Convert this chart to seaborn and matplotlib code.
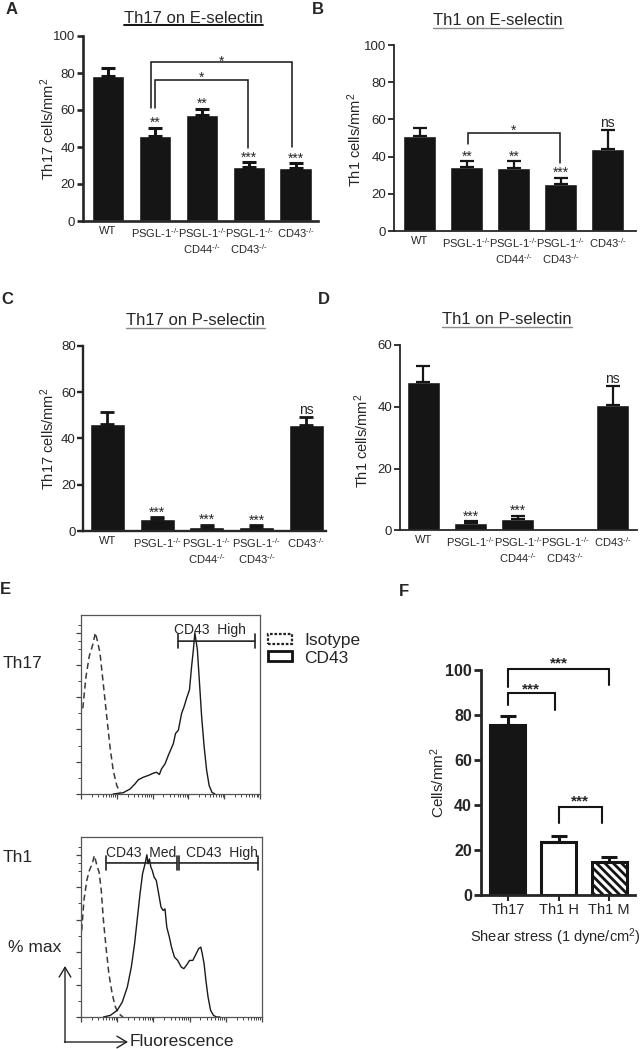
import matplotlib
matplotlib.use("Agg")
import matplotlib.pyplot as plt
from matplotlib.lines import Line2D
from matplotlib.patches import Patch
from matplotlib.ticker import FixedLocator, NullFormatter
import numpy as np
import pandas as pd
import seaborn as sns

# ---- data ----
KO = r"$^{\text{-/-}}$"
genotypes = ["WT", "PSGL-1" + KO, "PSGL-1" + KO + "\nCD44" + KO,
             "PSGL-1" + KO + "\nCD43" + KO, "CD43" + KO]

th17_e_mean = [78.4, 46.0, 57.1, 29.0, 28.6]
th17_e_top = [82.5, 50.3, 60.7, 31.9, 31.2]  # top of SEM whisker
th17_e_sig = ["", "**", "**", "***", "***"]

th1_e_mean = [51.1, 34.2, 34.0, 25.3, 44.3]
th1_e_top = [55.2, 37.6, 37.6, 28.7, 54.1]
th1_e_sig = ["", "**", "**", "***", "ns"]

th17_p_mean = [46.2, 5.2, 2.0, 2.0, 45.7]
th17_p_top = [51.6, 6.0, 2.8, 2.7, 49.1]
th17_p_sig = ["", "***", "***", "***", "ns"]

th1_p_mean = [48.1, 2.5, 3.8, 0.0, 40.5]
th1_p_top = [53.3, 3.0, 4.7, 0.0, 46.7]
th1_p_sig = ["", "***", "***", "", "ns"]

shear_groups = ["Th17", "Th1 H", "Th1 M"]
shear_mean = [75.6, 23.4, 14.8]
shear_top = [79.6, 26.4, 16.7]

# flow histograms: x in decades of fluorescence, y in % of max
th17_iso_x = [0.05, 0.14, 0.23, 0.33, 0.40, 0.46, 0.53, 0.62, 0.72, 0.81, 0.90, 1.00, 1.09]
th17_iso_y = [53.1, 72.9, 85.4, 92.7, 100, 94.8, 87.5, 68.8, 47.9, 29.2, 14.6, 5.2, 1.0]
th17_cd43_x = [0.90, 1.18, 1.37, 1.51, 1.60, 1.74, 1.88, 2.02, 2.11, 2.19, 2.25, 2.35, 2.44,
               2.50, 2.58, 2.64, 2.72, 2.81, 2.88, 2.95, 3.03, 3.09, 3.14, 3.18, 3.25, 3.31,
               3.37, 3.44, 3.51, 3.58, 3.66, 3.74]
th17_cd43_y = [0, 0.8, 3.1, 6.3, 8.8, 10.4, 11.5, 12.9, 13.5, 12.1, 15.6, 18.8, 24.0,
               27.1, 31.3, 37.5, 39.6, 50.0, 54.2, 59.4, 64.6, 79.2, 89.6, 100, 89.6, 68.8,
               47.9, 29.2, 14.6, 5.2, 1.0, 0]
th1_iso_x = [0.02, 0.08, 0.16, 0.23, 0.31, 0.37, 0.44, 0.50, 0.56, 0.62, 0.70, 0.77, 0.86,
             0.95, 1.04, 1.16]
th1_iso_y = [53.4, 71.9, 84.2, 90.3, 94.5, 99.6, 93.4, 89.3, 78.0, 59.5, 41.1, 26.7, 14.4,
             6.2, 2.1, 0]
th1_cd43_x = [0.62, 0.81, 1.00, 1.14, 1.28, 1.39, 1.48, 1.55, 1.63, 1.70, 1.77, 1.82, 1.85,
              1.89, 1.93, 1.97, 2.02, 2.08, 2.13, 2.21, 2.27, 2.32, 2.37, 2.44, 2.50, 2.58,
              2.67, 2.77, 2.84, 2.91, 3.00, 3.09, 3.18, 3.25, 3.31, 3.35, 3.40, 3.45, 3.51,
              3.58, 3.66, 3.74, 3.84]
th1_cd43_y = [0, 1.0, 4.1, 9.2, 18.5, 30.8, 45.2, 59.5, 75.9, 88.3, 94.5, 100, 94.5,
              97.5, 92.4, 90.3, 86.2, 84.2, 78.0, 67.8, 65.7, 66.7, 55.4, 49.3, 43.1, 37.0,
              34.9, 30.8, 29.8, 31.8, 34.9, 34.9, 39.0, 42.1, 43.1, 39.0, 32.9, 22.6, 12.3,
              4.1, 1.0, 0, 0]

W, H = 643, 1049
BAR = "#151515"

sns.set_style("ticks")
plt.rcParams["font.family"] = ["Liberation Sans", "DejaVu Sans"]
plt.rcParams["mathtext.fontset"] = "custom"
plt.rcParams["mathtext.rm"] = "Liberation Sans"
plt.rcParams["mathtext.it"] = "Liberation Sans:italic"
plt.rcParams["mathtext.bf"] = "Liberation Sans:bold"
plt.rcParams["hatch.linewidth"] = 2.0
plt.rcParams["hatch.color"] = BAR

fig = plt.figure(figsize=(W / 100, H / 100), dpi=100)


def px_axes(x0, y0, x1, y1):
    # pixel box (top-left origin) -> axes
    return fig.add_axes([x0 / W, 1 - y1 / H, (x1 - x0) / W, (y1 - y0) / H])


def ftext(x, y, s, **kw):
    return fig.text(x / W, 1 - y / H, s, **kw)


def bar_panel(ax, means, tops, sigs, ymax, xlim, lw, sig_fs=10):
    df = pd.DataFrame({"genotype": genotypes, "mean": means})
    sns.barplot(data=df, x="genotype", y="mean", color=BAR, width=0.7, saturation=1,
                errorbar=None, ax=ax)
    pos = np.arange(len(means))
    m = np.array(means)
    sem = np.array(tops) - m
    keep = sem > 0
    ax.errorbar(pos[keep], m[keep], yerr=[np.zeros(keep.sum()), sem[keep]], fmt="none",
                ecolor=BAR, elinewidth=lw + 0.3, capsize=5, capthick=lw + 0.3)
    for i, s in enumerate(sigs):
        if not s:
            continue
        off = 2.5 if s == "ns" else 0.5
        ax.annotate(s, (i, tops[i]), xytext=(0, off), textcoords="offset points",
                    ha="center", va="baseline", fontsize=sig_fs)
    ax.set_ylim(0, ymax)
    ax.set_xlim(*xlim)
    ax.set_xlabel("")
    ax.set_ylabel("")
    sns.despine(ax=ax)
    for sp in ("left", "bottom"):
        ax.spines[sp].set_linewidth(lw)
    ax.tick_params(axis="x", length=0, pad=3.5, labelsize=8.0)
    ax.tick_params(axis="y", direction="out", length=4, width=lw, labelsize=9.5, pad=1.5)


def bracket(ax, x0, x1, y, d0, d1, label, lw=1.1, fs=10, weight="normal", off=-1.0):
    ax.plot([x0, x0, x1, x1], [d0, y, y, d1], color=BAR, lw=lw, clip_on=False,
            solid_joinstyle="miter")
    ax.annotate(label, ((x0 + x1) / 2, y), xytext=(0, off), textcoords="offset points",
                ha="center", va="baseline", fontsize=fs, fontweight=weight,
                annotation_clip=False)


# ---- A ----
axA = px_axes(82.7, 36, 318, 221)
bar_panel(axA, th17_e_mean, th17_e_top, th17_e_sig, 100, (-0.54, 4.47), 1.9)
axA.set_yticks(range(0, 101, 20))
bracket(axA, 0.91, 3.91, 85.9, 61, 40.2, "*", off=-3)
bracket(axA, 1.01, 2.99, 76.2, 61, 39.3, "*", off=-1)

# ---- B ----
axB = px_axes(394, 45, 636, 231)
bar_panel(axB, th1_e_mean, th1_e_top, th1_e_sig, 100, (-0.547, 4.60), 1.3)
axB.set_yticks(range(0, 101, 20))
bracket(axB, 1.02, 2.99, 52.5, 47, 36.4, "*", off=-1)

# ---- C ----
axC = px_axes(83.3, 345.7, 326, 531.3)
bar_panel(axC, th17_p_mean, th17_p_top, th17_p_sig, 80, (-0.487, 4.40), 1.7)
axC.set_yticks(range(0, 81, 20))

# ---- D ----
axD = px_axes(400, 345, 636.7, 530.3)
bar_panel(axD, th1_p_mean, th1_p_top, th1_p_sig, 60, (-0.49, 4.51), 1.3)
axD.set_yticks(range(0, 61, 20))

for ax, lab, (lx, ly) in [(axA, "Th17 cells/mm$^2$", (47.5, 128.5)),
                          (axB, "Th1 cells/mm$^2$", (355, 140)),
                          (axC, "Th17 cells/mm$^2$", (47.5, 439)),
                          (axD, "Th1 cells/mm$^2$", (362, 441))]:
    ftext(lx, ly, lab, rotation=90, ha="center", va="center", fontsize=10.5)

titles = [("Th17 on E-selectin", 193.3, 22.7, "black", 1.3),
          ("Th1 on E-selectin", 498.3, 25.0, "#8a8a8a", 1.0),
          ("Th17 on P-selectin", 195.5, 325.0, "#8a8a8a", 1.0),
          ("Th1 on P-selectin", 506.7, 324.3, "#8a8a8a", 1.0)]
title_objs = []
for s, x, y, c, lw in titles:
    t = ftext(x, y, s, ha="center", va="baseline", fontsize=12)
    title_objs.append((t, y, c, lw))

for s, x, y in [("A", 11.7, 10), ("B", 317.5, 10), ("C", 7.5, 300), ("D", 324, 300),
                ("E", 5, 589), ("F", 403.5, 591)]:
    ftext(x, y, s, ha="center", va="center", fontsize=12, fontweight="bold")

# ---- E: flow histograms ----
def flow_axes(ax, iso_x, iso_y, cd_x, cd_y):
    sns.lineplot(x=iso_x, y=iso_y, ax=ax, color="#3a3a3a", lw=1.1, linestyle=(0, (4, 2.5)),
                 sort=False, estimator=None)
    sns.lineplot(x=cd_x, y=cd_y, ax=ax, color="#1a1a1a", lw=1.0, sort=False, estimator=None)
    ax.set_xlim(0, 5)
    ax.set_ylim(0, 111)
    for sp in ax.spines.values():
        sp.set_visible(True)
        sp.set_linewidth(0.9)
        sp.set_color("#555555")
    major = list(range(0, 6))
    minor = [d + np.log10(k) for d in range(5) for k in range(2, 10)]
    ax.xaxis.set_major_locator(FixedLocator(major))
    ax.xaxis.set_minor_locator(FixedLocator(minor))
    ax.yaxis.set_major_locator(FixedLocator(list(range(0, 101, 20))))
    ax.yaxis.set_minor_locator(FixedLocator(list(range(10, 101, 20)) + [95, 105]))
    ax.xaxis.set_major_formatter(NullFormatter())
    ax.yaxis.set_major_formatter(NullFormatter())
    ax.tick_params(which="major", direction="out", length=3.5, width=0.9, color="#444444")
    ax.tick_params(which="minor", direction="out", length=2, width=0.7, color="#444444")
    ax.set_xlabel("")
    ax.set_ylabel("")


def gate(ax, x0, x1, y, label, tx, ty):
    ax.annotate("", xy=(x1, y), xytext=(x0, y),
                arrowprops=dict(arrowstyle="|-|, widthA=0.3, widthB=0.3", lw=1.2,
                                color="#222222", shrinkA=0, shrinkB=0, mutation_scale=16))
    ax.text(tx, ty, label, ha="center", va="center", fontsize=10)


axE1 = px_axes(81, 615, 260, 794)
flow_axes(axE1, th17_iso_x, th17_iso_y, th17_cd43_x, th17_cd43_y)
gate(axE1, 2.72, 4.86, 94.8, "CD43  High", 3.61, 101.5)

axE2 = px_axes(81, 837, 262, 1017)
flow_axes(axE2, th1_iso_x, th1_iso_y, th1_cd43_x, th1_cd43_y)
gate(axE2, 0.70, 2.64, 95.0, "CD43  Med", 1.65, 101.0)
gate(axE2, 2.72, 4.89, 95.0, "CD43  High", 3.88, 101.0)

ftext(3, 663, "Th17", ha="left", va="center", fontsize=12.5)
ftext(3, 857, "Th1", ha="left", va="center", fontsize=12.5)
ftext(8, 947, "% max", ha="left", va="center", fontsize=12.5)
ftext(130, 1041, "Fluorescence", ha="left", va="center", fontsize=12.5)

arrow_kw = dict(arrowstyle="->, head_length=0.5, head_width=0.3", lw=1.0, color="#222222",
                shrinkA=0, shrinkB=0, mutation_scale=14)
axE2.annotate("", xy=(65, H - 966), xytext=(65, H - 1042.5), xycoords="figure pixels",
              textcoords="figure pixels", arrowprops=arrow_kw, annotation_clip=False)
axE2.annotate("", xy=(128, H - 1042), xytext=(64.5, H - 1042), xycoords="figure pixels",
              textcoords="figure pixels", arrowprops=arrow_kw, annotation_clip=False)

handles = [Patch(facecolor="white", edgecolor="#222222", linestyle=(0, (1.2, 0.8)), lw=1.6),
           Patch(facecolor="white", edgecolor="#111111", lw=2.0)]
fig.legend(handles, ["Isotype", "CD43"], loc="upper left",
           bbox_to_anchor=(268 / W, 1 - 633 / H), frameon=False, fontsize=12.5,
           handlelength=1.4, handleheight=0.5, handletextpad=0.7, labelspacing=0.15,
           borderpad=0, borderaxespad=0)

# ---- F ----
axF = px_axes(481, 670, 635, 895)
df_f = pd.DataFrame({"group": shear_groups, "mean": shear_mean})
sns.barplot(data=df_f, x="group", y="mean", hue="group", palette=[BAR, "white", "white"],
            width=0.69, saturation=1, errorbar=None, legend=False, edgecolor=BAR,
            linewidth=2.2, ax=axF)
axF.patches[2].set_hatch("\\\\\\\\")
posF = np.arange(len(shear_mean))
semF = np.array(shear_top) - np.array(shear_mean)
axF.errorbar(posF, shear_mean, yerr=[np.zeros(len(posF)), semF], fmt="none", ecolor=BAR,
             elinewidth=2.2, capsize=6, capthick=2.2)
axF.set_ylim(0, 100)
axF.set_xlim(-0.53, 2.51)
axF.set_yticks(range(0, 101, 20))
axF.set_xlabel("")
axF.set_ylabel("")
sns.despine(ax=axF)
for sp in ("left", "bottom"):
    axF.spines[sp].set_linewidth(2.0)
axF.tick_params(axis="y", direction="out", length=5, width=2.0, labelsize=11.5, pad=1.5)
axF.tick_params(axis="x", direction="out", length=4, width=1.5, labelsize=10.5, pad=2)
for t in axF.get_yticklabels():
    t.set_fontweight("bold")
bracket(axF, 0.0, 2.0, 100.4, 92.6, 93.3, "***", lw=1.5, fs=11, weight="bold", off=1.5)
bracket(axF, 0.0, 0.93, 90.0, 84.4, 82.2, "***", lw=1.5, fs=11, weight="bold", off=-1)
bracket(axF, 1.0, 1.85, 39.3, 31.9, 31.9, "***", lw=1.5, fs=11, weight="bold", off=0.7)
ftext(437.5, 782, "Cells/mm$^2$", rotation=90, ha="center", va="center", fontsize=11)
ftext(555, 937, "Shear stress (1 dyne/cm$^2$)", ha="center", va="center", fontsize=10.5)

# underline panel titles
fig.canvas.draw()
r = fig.canvas.get_renderer()
for t, y, c, lw in title_objs:
    bb = t.get_window_extent(r)
    yy = 1 - (y + 2.6) / H
    fig.add_artist(Line2D([bb.x0 / W, bb.x1 / W], [yy, yy], color=c, lw=lw))

fig.savefig("out.png", dpi=100)
